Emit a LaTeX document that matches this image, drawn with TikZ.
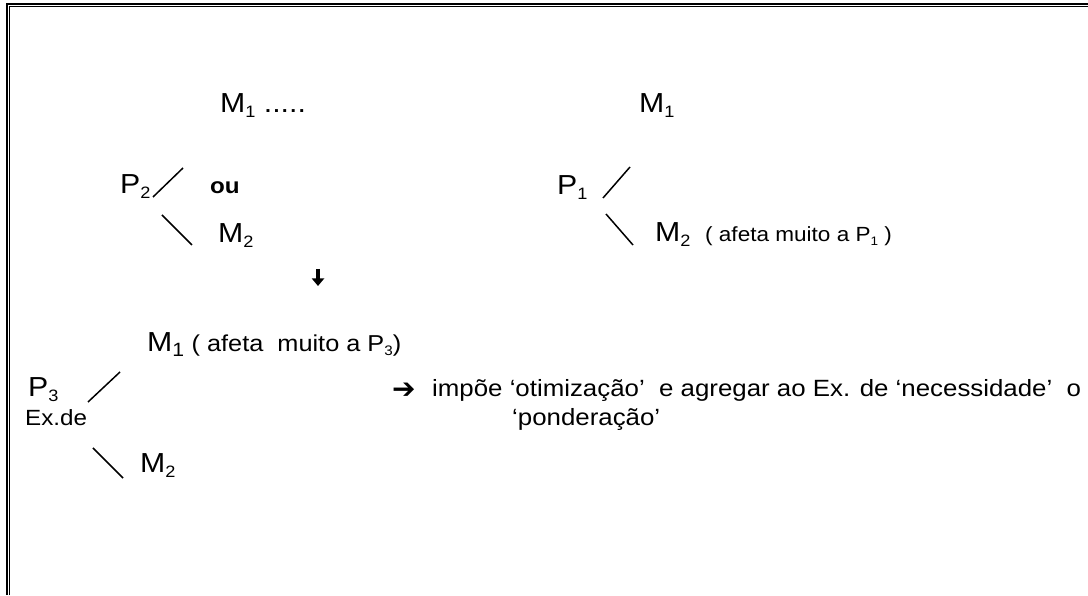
\documentclass[tikz,border=0pt]{standalone}
\usepackage{fontspec}
\setmainfont{Liberation Sans}[FakeStretch=1.1]
\newfontfamily\symfont{DejaVu Sans}
\usepackage{tikz}
\usetikzlibrary{arrows.meta,positioning}

\newcommand{\idx}[1]{\raisebox{-0.3ex}{\scalebox{0.6}{#1}}}

\begin{document}
\begin{tikzpicture}[x=1pt, y=1pt,
    every node/.style={inner sep=0pt, anchor=base west},
    grande/.style={font=\fontsize{27.5}{32}\selectfont},
    texto/.style={font=\fontsize{23.5}{28}\selectfont},
    pequeno/.style={font=\fontsize{20.5}{25}\selectfont},
    menor/.style={font=\fontsize{22}{26}\selectfont},
    traco/.style={line width=1.5pt}]

    \useasboundingbox (0,0) rectangle (1088,595);

    % 1. Moldura dupla (so em cima e a esquerda)
    \draw[line width=2pt] (7,0) -- (7,591) -- (1088,591);
    \draw[line width=1pt] (9.5,0) -- (9.5,588.5) -- (1088,588.5);

    % 2. Esquema superior esquerdo
    \node[grande] (m1a) at (220,482) {M\idx{1} .....};
    \node[grande] (p2) at (120,401) {P\idx{2}};
    \node[font=\fontsize{22}{26}\selectfont\bfseries] (ou) at (210,401) {ou};
    \node[grande] (m2a) at (218,352) {M\idx{2}};
    \coordinate (s1a) at (153,398);  \coordinate (s1b) at (183,427);
    \coordinate (s2a) at (162,380);  \coordinate (s2b) at (192,350);
    \draw[traco] (s1a) -- (s1b);
    \draw[traco] (s2a) -- (s2b);

    % 3. Seta para baixo
    \coordinate (baixo1) at (318,326);
    \coordinate (baixo2) at (318,309);
    \draw[line width=3.5pt, -{Triangle[length=7.5pt, width=12pt]}] (baixo1) -- (baixo2);

    % 4. Esquema superior direito
    \node[grande] (m1b) at (639,482) {M\idx{1}};
    \node[grande] (p1) at (557,400) {P\idx{1}};
    \node[grande] (m2b) at (655,353) {M\idx{2}};
    \node[pequeno] (afeta1) at (705,353) {( afeta muito a P\idx{1} )};
    \coordinate (s3a) at (603,397);  \coordinate (s3b) at (630,428);
    \coordinate (s4a) at (606,381);  \coordinate (s4b) at (633,350);
    \draw[traco] (s3a) -- (s3b);
    \draw[traco] (s4a) -- (s4b);

    % 5. Esquema inferior
    \node[grande] (m1c) at (147,243) {M\textsubscript{1}\fontsize{23}{28}\selectfont{} ( afeta\ \ muito a P\idx{3})};
    \node[grande] (p3) at (28,198) {P\idx{3}};
    \node[menor] (exde) at (25,169) {Ex.de};
    \node[grande] (m2c) at (140,122) {M\idx{2}};
    \coordinate (s5a) at (88,193);   \coordinate (s5b) at (120,223);
    \coordinate (s6a) at (93,147);   \coordinate (s6b) at (123,117);
    \draw[traco] (s5a) -- (s5b);
    \draw[traco] (s6a) -- (s6b);

    % 6. Conclusao
    \node[font=\symfont\bfseries\fontsize{28}{32}\selectfont, anchor=west] (seta) at (392,204) {➔};
    \node[texto] (impoe) at (432,198) {impõe ‘otimização’\ \ e agregar ao Ex. de ‘necessidade’\ \ o};
    \node[texto] (pond) at (512,169) {‘ponderação’};

\end{tikzpicture}
\end{document}
